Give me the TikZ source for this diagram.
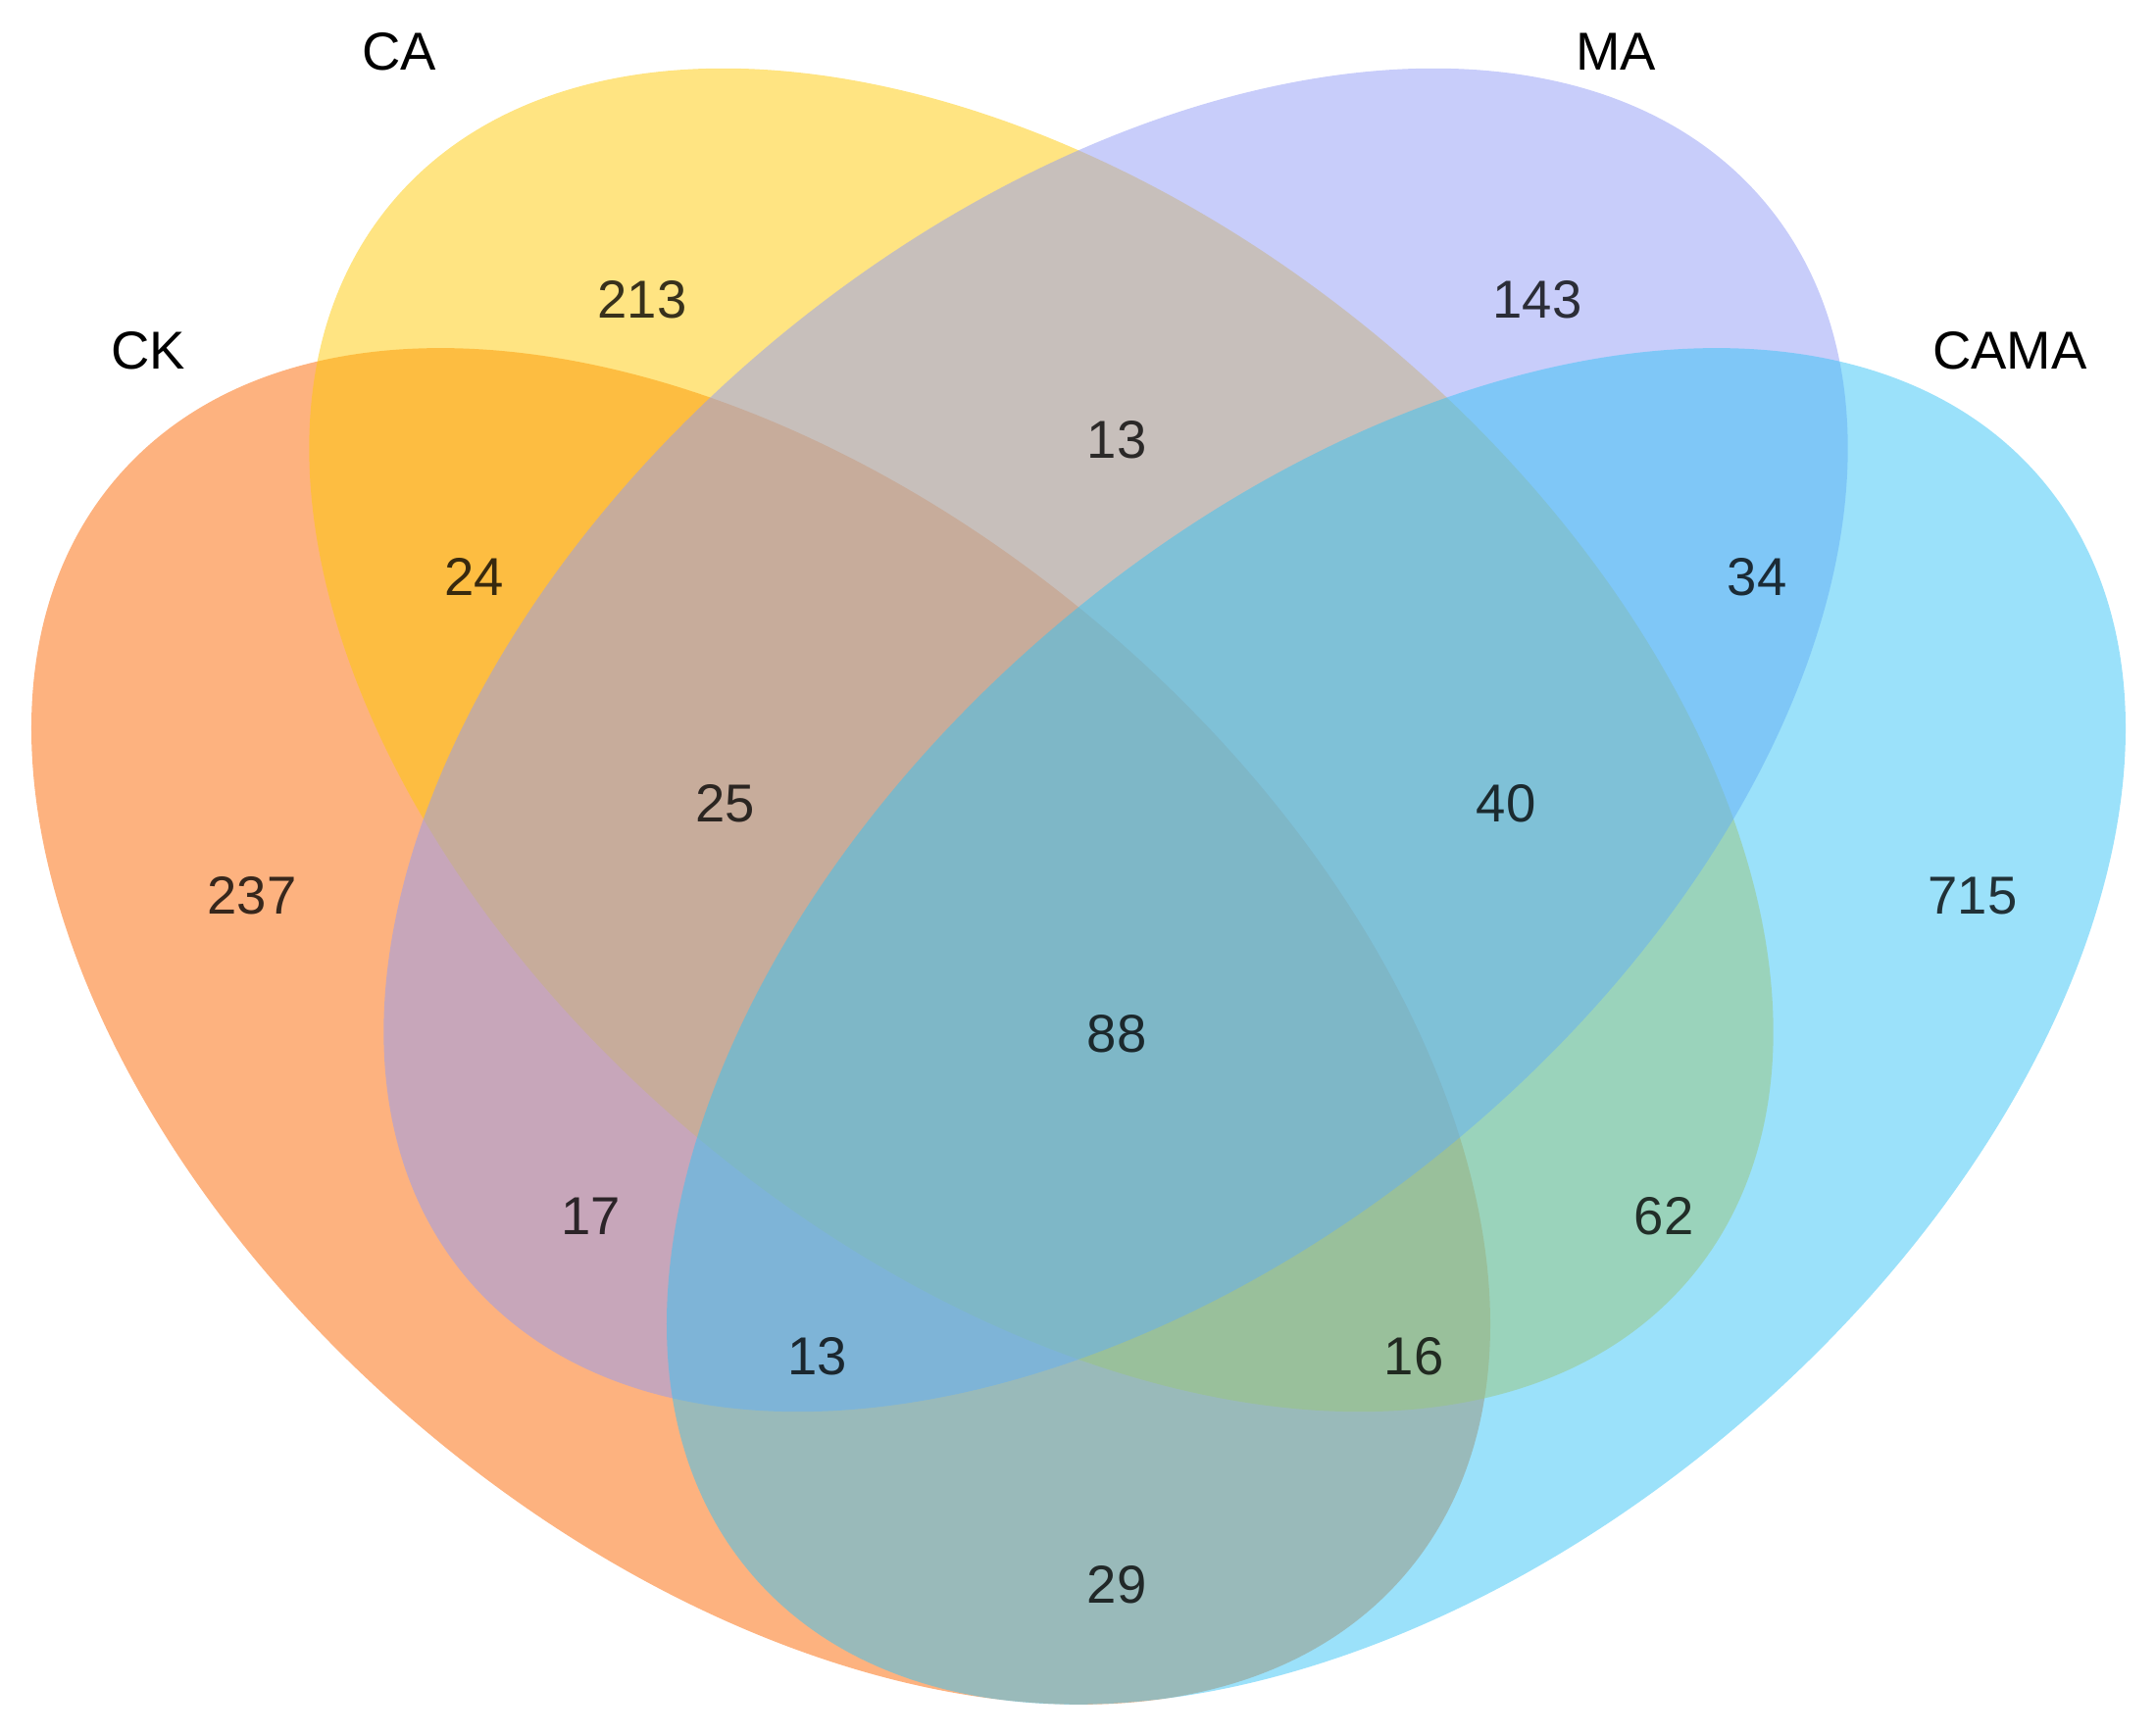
\documentclass[tikz,border=0pt]{standalone}
\usepackage{fontspec}
\setmainfont{Liberation Sans}
\definecolor{ckc}{RGB}{251,101,0}
\definecolor{cac}{RGB}{255,201,5}
\definecolor{mac}{RGB}{145,155,245}
\definecolor{camac}{RGB}{55,195,245}
\begin{document}
\begin{tikzpicture}[x=1cm,y=1cm,
  setfill/.style={fill opacity=0.5},
  numlab/.style={font=\fontsize{15.5}{18}\selectfont, text=black, text opacity=0.78, inner sep=0pt},
  setlab/.style={font=\fontsize{15.5}{18}\selectfont, text=black, inner sep=0pt}]
\useasboundingbox (0,0) rectangle (21.99,17.70);
% sets: CK, CA, MA, CAMA
\begin{scope}[shift={(7.76,7.23)}, rotate=-40.3]
  \fill[ckc, setfill] (0,0) ellipse [x radius=8.63, y radius=5.36];
\end{scope}
\begin{scope}[shift={(10.62,10.15)}, rotate=-39.4]
  \fill[cac, setfill] (0,0) ellipse [x radius=8.60, y radius=5.36];
\end{scope}
\begin{scope}[shift={(11.38,10.15)}, rotate=39.4]
  \fill[mac, setfill] (0,0) ellipse [x radius=8.60, y radius=5.36];
\end{scope}
\begin{scope}[shift={(14.24,7.23)}, rotate=40.3]
  \fill[camac, setfill] (0,0) ellipse [x radius=8.63, y radius=5.36];
\end{scope}
% set labels
\node[setlab] (lck) at (1.51,14.12) {CK};
\node[setlab] (lca) at (4.07,17.17) {CA};
\node[setlab] (lma) at (16.48,17.17) {MA};
\node[setlab] (lcama) at (20.50,14.12) {CAMA};
% region counts
\node[numlab] (n213) at (6.55,14.64) {213};
\node[numlab] (n143) at (15.68,14.64) {143};
\node[numlab] (n13a) at (11.39,13.21) {13};
\node[numlab] (n24) at (4.84,11.81) {24};
\node[numlab] (n34) at (17.92,11.81) {34};
\node[numlab] (n25) at (7.40,9.50) {25};
\node[numlab] (n40) at (15.36,9.50) {40};
\node[numlab] (n237) at (2.57,8.56) {237};
\node[numlab] (n715) at (20.12,8.56) {715};
\node[numlab] (n88) at (11.39,7.15) {88};
\node[numlab] (n17) at (6.03,5.29) {17};
\node[numlab] (n62) at (16.97,5.29) {62};
\node[numlab] (n13b) at (8.34,3.86) {13};
\node[numlab] (n16) at (14.42,3.86) {16};
\node[numlab] (n29) at (11.39,1.53) {29};
\end{tikzpicture}
\end{document}
